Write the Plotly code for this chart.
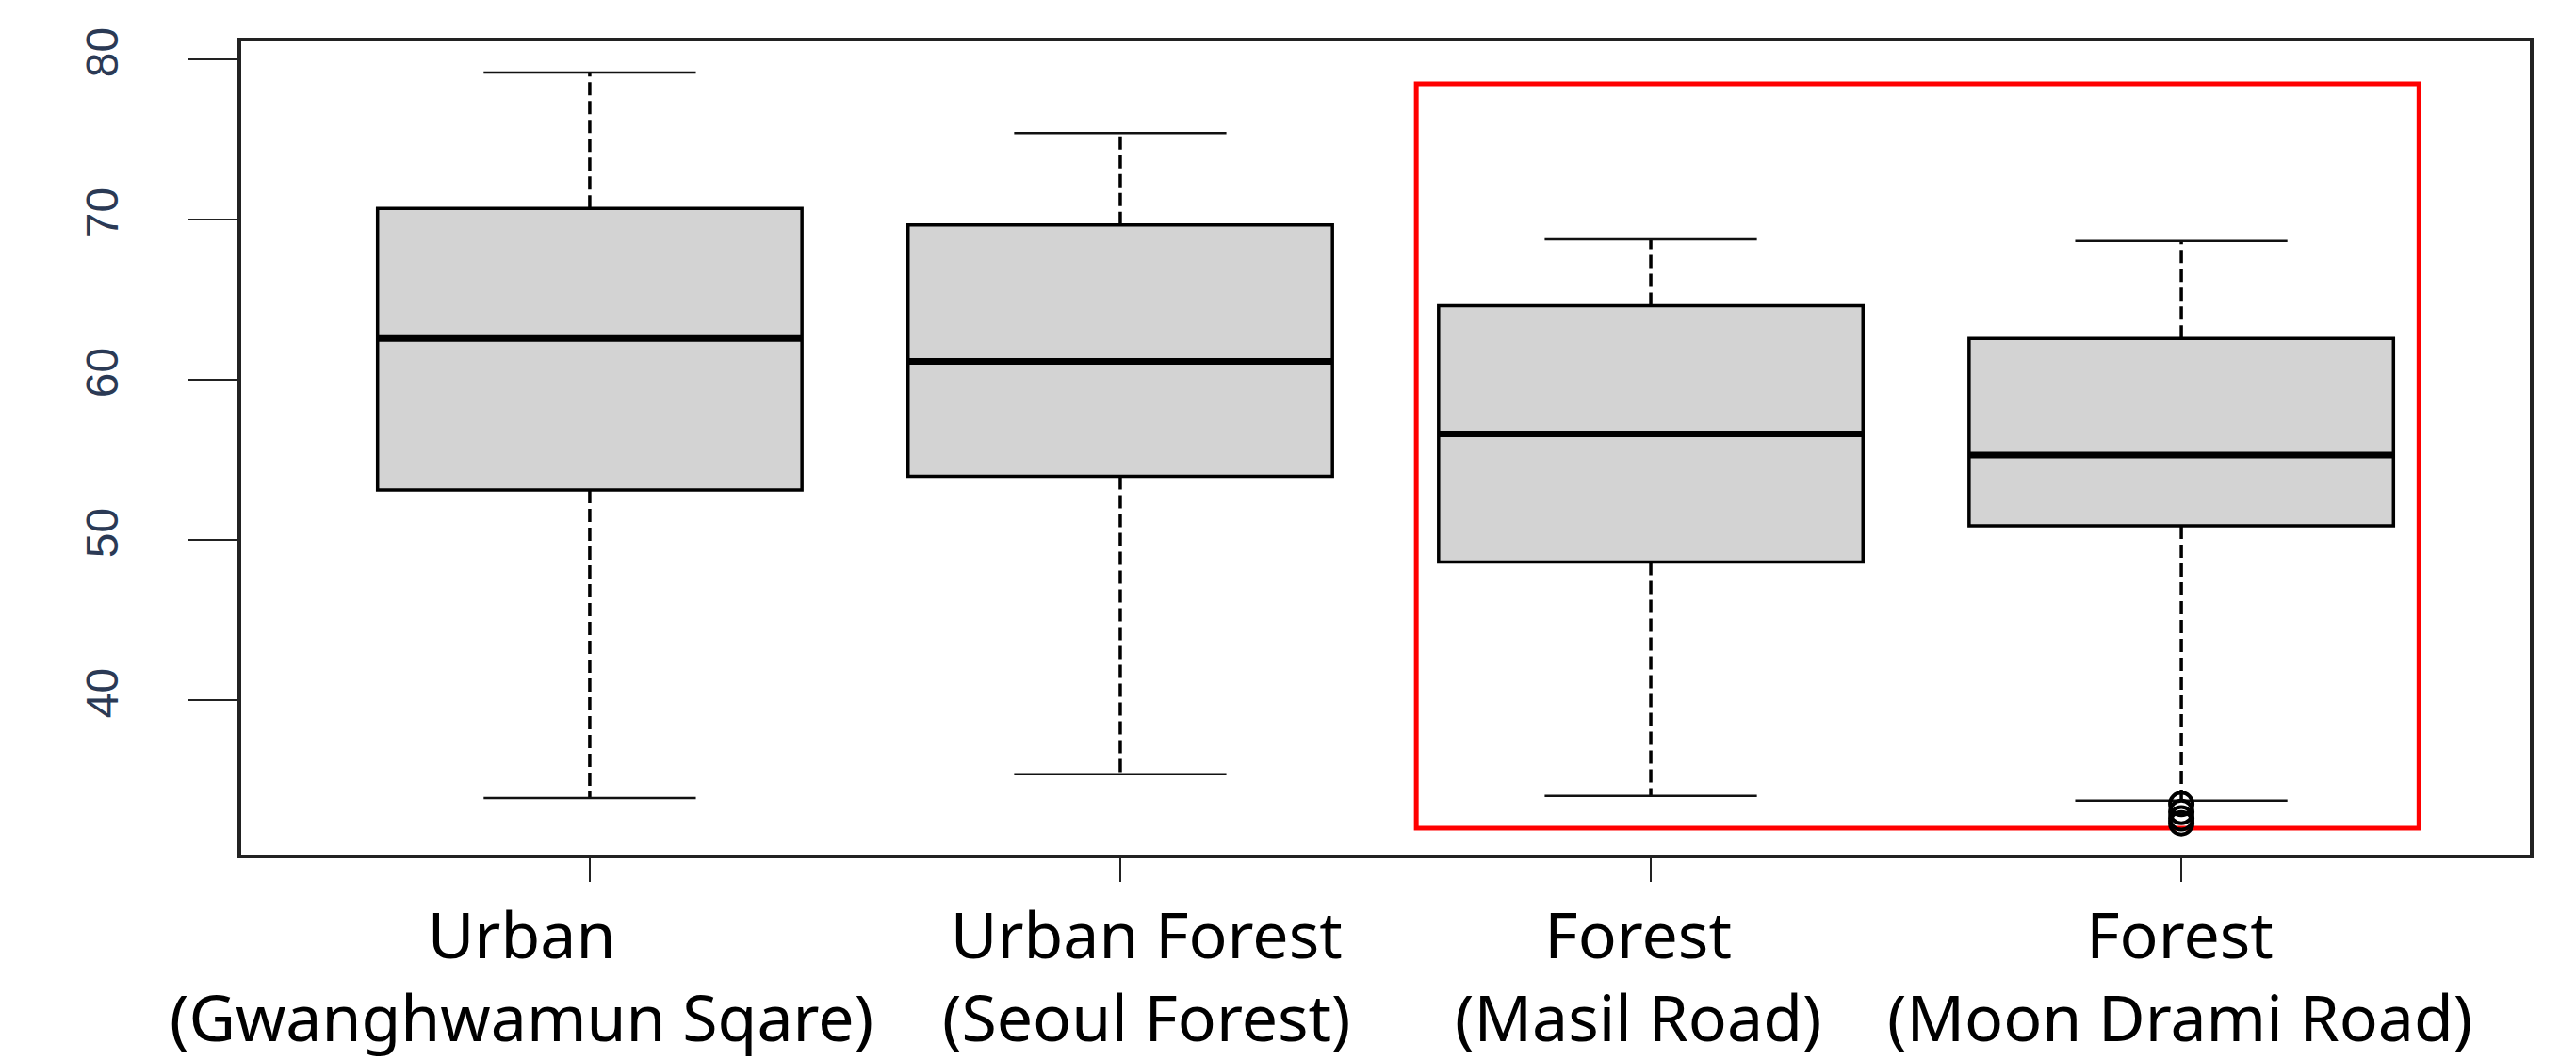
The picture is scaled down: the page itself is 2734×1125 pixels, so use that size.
import plotly.graph_objects as go

# ---- data ----
category_names = ["Urban", "Urban Forest", "Forest", "Forest"]
category_sites = ["(Gwanghwamun Sqare)", "(Seoul Forest)", "(Masil Road)", "(Moon Drami Road)"]
positions = [1, 2, 3, 4]
lower_whisker = [33.87, 35.36, 34.00, 33.70]
q1_values = [53.10, 53.95, 48.60, 50.87]
median_values = [62.56, 61.13, 56.60, 55.28]
q3_values = [70.67, 69.64, 64.60, 62.56]
upper_whisker = [79.16, 75.38, 68.75, 68.64]
outlier_x = [4, 4, 4, 4]
outlier_y = [33.5, 33.0, 32.6, 32.3]
y_tickvals = [40, 50, 60, 70, 80]

# label horizontal nudges (px), as in the original figure
label_offsets_px = [-72, 28, -14, -2]

# highlight region (Forest sites)
highlight = dict(x0=2.558, x1=4.448, y0=31.99, y1=78.46)

BOX_W = 0.8
CAP_W = 0.4

fig = go.Figure()

# boxes (without whiskers)
fig.add_trace(go.Box(
    x=positions, q1=q1_values, median=median_values, q3=q3_values,
    lowerfence=q1_values, upperfence=q3_values,
    width=BOX_W, fillcolor="#D3D3D3",
    line=dict(color="black", width=3.5),
    whiskerwidth=0, boxpoints=False, hoverinfo="skip", showlegend=False,
))

# dashed whiskers
wx, wy = [], []
for p, lo, a, b, hi in zip(positions, lower_whisker, q1_values, q3_values, upper_whisker):
    wx += [p, p, None, p, p, None]
    wy += [b, hi, None, a, lo, None]
fig.add_trace(go.Scatter(x=wx, y=wy, mode="lines",
                         line=dict(color="black", width=3.5, dash="14px,6px"),
                         hoverinfo="skip", showlegend=False))

# caps
cx, cy = [], []
for p, lo, hi in zip(positions, lower_whisker, upper_whisker):
    cx += [p - CAP_W / 2, p + CAP_W / 2, None, p - CAP_W / 2, p + CAP_W / 2, None]
    cy += [hi, hi, None, lo, lo, None]
fig.add_trace(go.Scatter(x=cx, y=cy, mode="lines",
                         line=dict(color="#111111", width=2.5),
                         hoverinfo="skip", showlegend=False))

# thick medians
mx, my = [], []
for p, m in zip(positions, median_values):
    mx += [p - BOX_W / 2, p + BOX_W / 2, None]
    my += [m, m, None]
fig.add_trace(go.Scatter(x=mx, y=my, mode="lines",
                         line=dict(color="black", width=7),
                         hoverinfo="skip", showlegend=False))

# outliers
fig.add_trace(go.Scatter(x=outlier_x, y=outlier_y, mode="markers",
                         marker=dict(symbol="circle-open", size=24, color="black",
                                     line=dict(width=4, color="black")),
                         hoverinfo="skip", showlegend=False))

# red highlight rectangle
fig.add_shape(type="rect", xref="x", yref="y", **highlight,
              line=dict(color="#FF0000", width=5), fillcolor="rgba(0,0,0,0)",
              layer="below")

# two-line category labels
label_font = dict(family="Noto Sans, Noto Sans CJK KR, sans-serif", size=68, color="black")
for p, name, site, dx in zip(positions, category_names, category_sites, label_offsets_px):
    fig.add_annotation(x=p, y=0, xref="x", yref="paper", text=f"{name}<br>{site}",
                       showarrow=False, align="center",
                       xanchor="center", yanchor="top", yshift=-35, xshift=dx, font=label_font)

fig.update_layout(
    width=2726, height=1117,
    margin=dict(l=248, r=49, t=36, b=218),
    paper_bgcolor="white", plot_bgcolor="white",
    showlegend=False,
)
fig.update_xaxes(
    range=[0.343, 4.657], tickmode="array", tickvals=positions,
    ticktext=["" for _ in positions],
    showgrid=False, zeroline=False, automargin=False, tickangle=0,
    showline=True, mirror=True, linecolor="#222222", linewidth=4,
    ticks="outside", ticklen=25, tickwidth=2, tickcolor="#222222",
)
fig.update_yaxes(
    range=[30.34, 81.1], tickmode="array", tickvals=y_tickvals,
    ticktext=[str(v) for v in y_tickvals],
    showgrid=False, zeroline=False, automargin=False,
    showline=True, mirror=True, linecolor="#222222", linewidth=4,
    ticks="outside", ticklen=52, tickwidth=2, tickcolor="#222222",
    tickangle=-90,
    tickfont=dict(family="Liberation Sans Narrow, Liberation Sans, Arial, sans-serif", size=48, color="#2b3a55"),
    ticklabelstandoff=56,
)

fig.write_html("out.html")
